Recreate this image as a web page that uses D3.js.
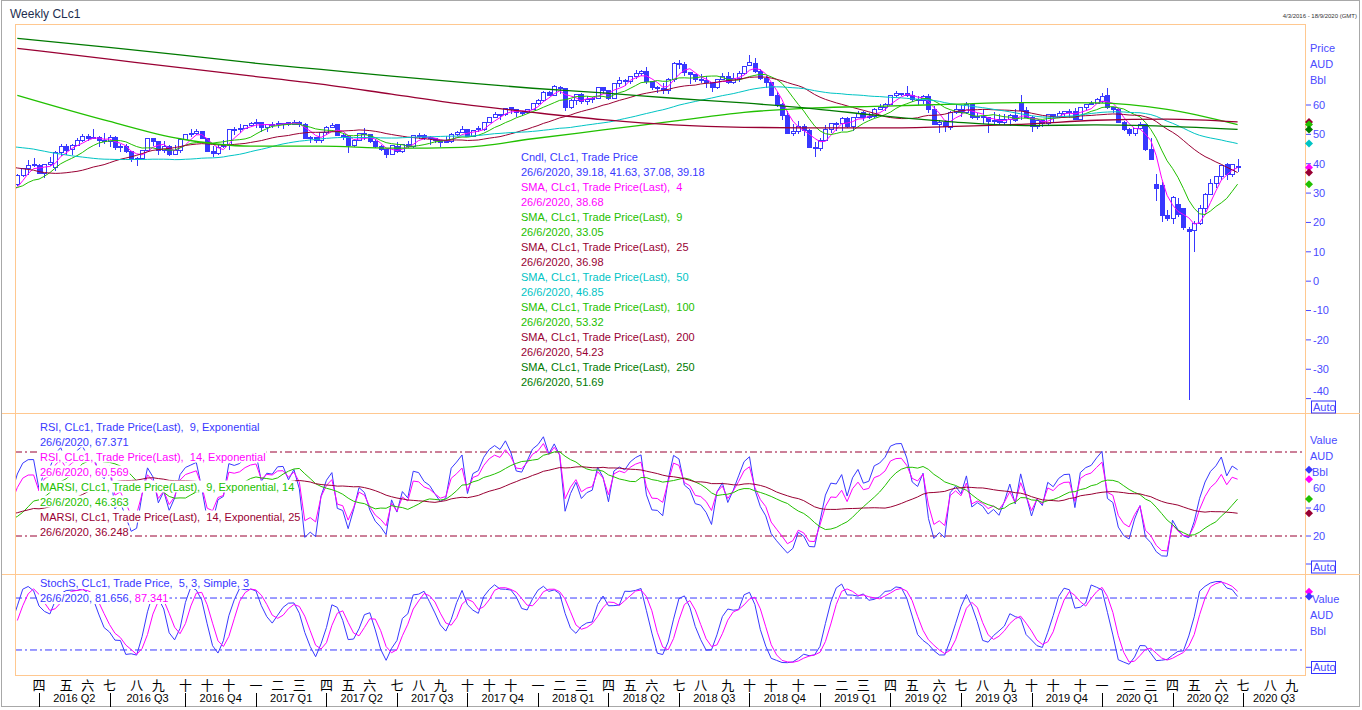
<!DOCTYPE html>
<html>
<head>
<meta charset="utf-8">
<title>Weekly CLc1</title>
<script src="https://cdn.jsdelivr.net/npm/d3@7/dist/d3.min.js"></script>
<style>
body{margin:0;background:#fff;}
svg{font-family:Arial,"Liberation Sans",sans-serif;}
text{white-space:pre;}
</style>
</head>
<body>
<svg id="chart" width="1362" height="710"></svg>
<script>
// weekly candles, one per Friday from 4/3/2016 to 26/6/2020
var opens=[
 32.8,35.9,38.3,39.9,39.5,36.8,39.7,38.7,43.7,45.9,44.7,46.2,47.8,49.3,48.6,49.1,48.0,47.6,49.0,45.4,46.0,44.2,41.6,41.8,44.5,48.5,47.6,44.4,45.9,43.0,44.5,48.2,49.8,50.4,50.9,48.7,44.1,43.4,45.7,46.1,51.7,51.5,51.9,53.0,
 53.7,54.0,52.4,53.2, 53.2,53.8,53.9,53.4, 54.0,53.3,48.5,48.8,48.0, 50.6,52.2,53.2,49.6, 49.3,46.2,47.8,50.3, 49.8,47.7,45.8,44.7,43.0, 46.0,44.2,46.5,45.8, 49.7,49.6,48.8,48.5, 47.9,47.3,47.5,49.9,50.7, 51.7,49.3,51.5,51.8, 53.9,55.6,56.7,56.6, 59.0,58.4,57.4,57.3,58.5,
 60.4,61.4,64.3,63.4, 66.1,65.5,59.2,61.7, 63.6,61.3,62.0,62.3,65.9, 64.9,62.1,67.4,68.4, 68.1,69.7,70.7,71.3, 67.9,65.8,65.7,65.1,68.6, 74.2,73.8,71.0,70.5, 68.7,68.5,67.6,65.9,68.7, 69.8,67.8,69.0,70.8, 73.3,74.3,71.3,69.1, 67.6,63.1,60.2,56.5,50.4, 50.9,52.6,51.2,45.6,
 45.3,48.0,51.6,53.8, 53.7,55.3,52.7,55.6, 57.3,55.8,56.1,58.5,59.0, 60.1,63.1,63.9,64.0, 63.3,61.9,61.7,62.8,58.6, 53.5,54.0,52.5,57.4, 58.5,57.5,60.2,55.6, 56.2,55.7,54.5,54.9,54.2, 55.1,56.5,61.0,58.1, 55.9,52.8,54.7,53.8, 56.7,56.2,57.2,57.7,57.8, 55.2,59.2,60.1,60.4,
 61.1,63.3,59.0,58.5,54.2, 51.6,50.3,52.1,53.4, 44.8,32.9,32.5,22.4, 21.3,26.1,24.7,17.7, 17.2,19.8,24.7,29.4,33.3, 35.5,39.6,36.3,39.18
];
var highs=[
 36.4,38.7,41.2,41.9,39.9,39.8,42.4,44.5,46.8,46.8,46.7,48.8,50.2,50.0,51.7,49.3,50.5,49.7,49.4,46.8,46.7,44.3,42.3,44.6,48.8,48.6,47.8,47.7,46.4,46.5,48.3,50.1,51.9,51.9,51.0,48.9,45.9,46.6,48.2,51.8,52.4,53.6,53.2,54.3,
 55.2,54.0,53.3,54.1, 54.5,54.0,54.0,54.9, 54.6,53.7,49.4,49.0,50.9, 52.9,53.8,53.3,50.0, 49.4,48.3,50.5,52.0, 49.9,48.5,46.5,44.7,46.3, 47.3,46.6,47.6,49.8, 50.4,50.2,49.3,48.7, 48.0,49.4,50.4,51.0,52.9, 51.8,51.6,52.9,54.0, 55.7,57.7,57.1,59.1, 59.1,58.8,58.1,58.5,60.5,
 62.2,64.8,64.9,66.7, 66.6,65.5,61.9,63.7, 64.2,63.0,62.6,66.0,66.0, 65.0,67.5,69.6,69.0, 69.9,71.9,72.0,72.8, 68.0,66.6,67.5,69.2,74.5, 75.3,74.8,71.4,70.6, 70.4,69.8,67.9,69.0,70.8, 71.4,71.0,71.6,73.3, 76.9,75.9,72.2,69.9, 67.9,64.5,60.7,57.8,53.4, 54.6,53.6,51.9,47.5,
 48.8,53.3,54.0,54.3, 55.8,55.8,55.9,57.8, 57.9,57.4,58.9,60.4,60.7, 63.3,64.8,64.2,66.6, 64.9,63.0,63.4,63.8,59.6, 54.8,54.8,58.0,59.9, 59.9,60.9,60.6,57.4, 58.8,55.7,57.5,56.9,56.9, 57.1,58.8,63.4,59.4, 56.3,54.9,54.9,56.9, 56.9,57.9,57.9,58.7,58.9, 59.2,60.2,61.2,62.3,
 64.1,65.7,59.3,59.1,54.5, 52.2,52.2,54.3,53.6, 48.7,36.4,33.8,24.2, 29.1,28.4,24.7,18.3, 20.5,26.0,29.9,34.7,35.6, 39.6,40.4,40.0,41.63
];
var lows=[
 32.5,35.4,36.3,39.0,36.6,35.2,39.2,37.6,42.5,43.0,43.1,46.0,47.3,47.8,48.4,45.8,46.7,45.8,44.8,44.0,43.8,40.6,39.2,41.6,44.3,46.0,43.0,43.8,42.7,42.9,43.6,48.0,49.1,49.7,48.3,44.0,42.2,43.0,45.4,44.8,49.9,50.3,51.8,52.4,
 52.1,50.7,50.9,52.1, 52.1,51.9,52.8,53.2, 52.5,48.3,47.1,47.0,47.1, 49.9,52.0,49.5,48.2, 43.8,45.6,47.7,48.2, 46.9,45.2,44.3,42.1,42.9, 43.8,43.6,45.4,45.4, 48.4,48.0,46.5,47.0, 45.6,46.9,47.1,49.4,50.5, 49.1,49.3,50.7,51.1, 53.8,55.5,54.8,56.3, 56.8,55.8,56.1,57.0,58.4,
 60.1,61.1,63.1,62.9, 63.7,58.1,58.6,60.1, 60.2,60.1,60.8,61.9,63.9, 61.8,62.0,66.3,66.6, 67.0,68.9,70.0,67.2, 65.0,64.2,63.6,63.9,67.9, 72.3,69.8,67.0,67.7, 67.6,65.7,64.4,65.6,68.6, 67.1,67.0,68.0,70.1, 73.2,70.8,68.5,65.7, 62.9,59.3,54.8,50.2,49.4, 50.1,49.6,45.2,42.4,
 44.4,48.0,50.4,51.3, 51.3,52.3,51.3,55.5, 54.5,55.1,55.6,58.3,58.1, 60.1,62.8,63.0,62.8, 60.9,60.1,60.2,57.3,53.2, 50.6,50.7,51.4,57.1, 55.8,57.1,55.3,55.0, 53.6,50.5,53.5,53.2,53.2, 52.8,54.3,54.8,55.5, 50.9,51.9,52.4,53.3, 53.9,55.6,55.9,55.5,55.1, 55.0,58.3,59.9,60.3,
 60.6,58.7,57.4,53.9,51.3, 49.3,49.4,51.7,44.2, 41.1,27.3,20.1,20.5, 19.3,22.0,17.3,-40.32, 10.07,19.1,23.5,29.3,31.6, 34.6,34.6,35.4,37.08
];
var closes=[
 35.92,38.50,39.44,39.46,36.79,39.72,40.36,43.73,45.92,44.66,46.21,47.75,49.33,48.62,49.07,47.98,47.64,48.99,45.41,45.95,44.19,41.60,41.80,44.49,48.52,47.64,44.44,45.88,43.03,44.48,48.24,49.81,50.35,50.85,48.70,44.07,43.41,45.69,46.06,51.68,51.50,51.90,53.02,53.72,
 53.99,52.37,53.22,53.17, 53.83,53.86,53.40,54.01, 53.33,48.49,48.78,47.97,50.60, 52.24,53.18,49.62,49.33, 46.22,47.84,50.33,49.80, 47.66,45.83,44.74,43.01,46.04, 44.23,46.54,45.77,49.71, 49.58,48.82,48.51,47.87, 47.29,47.48,49.89,50.66,51.67, 49.29,51.45,51.84,53.90, 55.64,56.74,56.55,58.95, 58.36,57.36,57.30,58.47,60.42,
 61.44,64.30,63.37,66.14, 65.45,59.20,61.68,63.55, 61.25,62.04,62.34,65.88,64.94, 62.06,67.39,68.38,68.10, 69.72,70.70,71.28,67.88, 65.81,65.74,65.06,68.58,74.15, 73.80,71.01,70.46,68.69, 68.49,67.63,65.91,68.72,69.80, 67.75,68.99,70.78,73.25, 74.34,71.34,69.12,67.59, 63.14,60.19,56.46,50.42,50.93, 52.61,51.20,45.59,45.33,
 47.96,51.59,53.80,53.69, 55.26,52.72,55.59,57.26, 55.80,56.07,58.52,59.04,60.14, 63.08,63.89,64.00,63.30, 61.94,61.66,62.76,58.63,53.50, 54.00,52.51,57.43,58.47, 57.51,60.21,55.63,56.20, 55.66,54.50,54.87,54.17,55.10, 56.52,54.85,58.09,55.91, 52.81,54.70,53.78,56.66, 56.20,57.24,57.72,57.77,55.17, 59.20,60.07,60.44,61.72,
 63.05,59.04,58.54,54.19,51.56, 50.32,52.05,53.38,44.76, 41.28,31.73,22.43,21.51, 28.34,22.76,18.27,16.94, 19.78,24.74,29.43,33.25,35.49, 39.55,36.26,39.75,39.18
];

// closes of the 52 weeks before the window (6/3/2015 .. 26/2/2016), they only start the averages
var preCloses=[49.61,44.84,45.72,48.87,49.14,51.64,55.74,57.15,59.15,59.39,59.69,59.72,60.30,59.13,59.96,59.61,59.63,56.93,52.74,50.89,48.14,47.12,43.87,42.50,40.45,45.22,46.05,44.63,44.68,45.70,45.54,49.63,47.26,44.60,46.59,44.29,40.74,40.39,41.71,39.97,35.62,34.73,38.10,37.04,33.16,29.42,32.19,33.62,30.89,29.44,29.64,32.78];
// highs / lows of the last 8 of those weeks (the stochastic needs them)
var preHighs=[38.4,34.0,32.4,34.8,34.0,31.1,31.5,33.2];
var preLows=[32.1,29.1,26.2,29.3,29.5,26.1,28.4,29.4];

// long averages at quarter ends
var sma100Pts=[["2016-03-04",63.3],["2016-06-30",54.5],["2016-09-30",48.5],["2016-12-30",46.0],["2017-03-31",46.0],["2017-06-30",45.3],["2017-09-29",45.6],["2017-12-29",48.5],["2018-03-30",51.5],["2018-06-29",54.5],["2018-09-28",57.5],["2018-12-28",59.0],["2019-03-29",59.6],["2019-06-28",60.3],["2019-09-27",60.8],["2019-12-27",60.7],["2020-03-27",58.5],["2020-06-26",53.32]];
var sma200Pts=[["2016-03-04",79.3],["2016-06-30",75.6],["2016-09-30",72.7],["2016-12-30",69.9],["2017-03-31",67.1],["2017-06-30",63.7],["2017-09-29",60.3],["2017-12-29",57.5],["2018-03-30",55.0],["2018-06-29",53.2],["2018-09-28",52.4],["2018-12-28",52.2],["2019-03-29",52.2],["2019-06-28",52.7],["2019-09-27",53.5],["2019-12-27",54.8],["2020-03-27",55.2],["2020-06-26",54.23]];
var sma250Pts=[["2016-03-04",82.7],["2016-06-30",79.6],["2016-09-30",77.1],["2016-12-30",74.4],["2017-03-31",72.1],["2017-06-30",69.8],["2017-09-29",67.7],["2017-12-29",65.7],["2018-03-30",64.1],["2018-06-29",62.3],["2018-09-28",60.7],["2018-12-28",58.7],["2019-03-29",56.2],["2019-06-28",54.2],["2019-09-27",53.0],["2019-12-27",53.2],["2020-03-27",52.7],["2020-06-26",51.69]];

var priceTicks=[60,50,40,30,20,10,0,-10,-20,-30,-40];
var monthNames=["一","二","三","四","五","六","七","八","九","十","十","十"];

var priceLegend=[
 ["Cndl, CLc1, Trade Price","26/6/2020, 39.18, 41.63, 37.08, 39.18","blue"],
 ["SMA, CLc1, Trade Price(Last),  4","26/6/2020, 38.68","magenta"],
 ["SMA, CLc1, Trade Price(Last),  9","26/6/2020, 33.05","lime"],
 ["SMA, CLc1, Trade Price(Last),  25","26/6/2020, 36.98","maroon"],
 ["SMA, CLc1, Trade Price(Last),  50","26/6/2020, 46.85","cyan"],
 ["SMA, CLc1, Trade Price(Last),  100","26/6/2020, 53.32","lime"],
 ["SMA, CLc1, Trade Price(Last),  200","26/6/2020, 54.23","maroon"],
 ["SMA, CLc1, Trade Price(Last),  250","26/6/2020, 51.69","dkgreen"]
];
var priceLast=[[54.23,"maroon"],[53.32,"lime"],[51.69,"dkgreen"],[46.85,"cyan"],[38.68,"magenta"],[36.98,"maroon"],[33.05,"lime"]];
var rsiLegend=[
 ["RSI, CLc1, Trade Price(Last),  9, Exponential","26/6/2020, 67.371","blue"],
 ["RSI, CLc1, Trade Price(Last),  14, Exponential","26/6/2020, 60.569","magenta"],
 ["MARSI, CLc1, Trade Price(Last),  9, Exponential, 14","26/6/2020, 46.363","lime"],
 ["MARSI, CLc1, Trade Price(Last),  14, Exponential, 25","26/6/2020, 36.248","maroon"]
];
var rsiLast=[[67.371,"blue"],[60.569,"magenta"],[46.363,"lime"],[36.248,"maroon"]];
var stochLast=[[87.341,"magenta"],[81.656,"blue"]];

var col={blue:"#3838ff",magenta:"#ff00ff",lime:"#22c000",maroon:"#990033",cyan:"#00c4c4",dkgreen:"#007a00"};
var orange="#ffc890", axisBlue="#4a4aff";

var svg=d3.select("#chart");
var L=15,R=1305;
var dates=d3.timeFriday.range(new Date(2016,2,4),new Date(2020,5,27));
var preDates=d3.timeFriday.range(new Date(2015,2,6),new Date(2016,2,4));
var allDates=preDates.concat(dates);
var nPre=preCloses.length;
var pad=nPre-preHighs.length;
var allC=preCloses.concat(closes);
var allH=preCloses.map(function(d,i){return i<pad?null:preHighs[i-pad];}).concat(highs);
var allL=preCloses.map(function(d,i){return i<pad?null:preLows[i-pad];}).concat(lows);

var x=d3.scaleTime().domain([new Date(2016,2,1),new Date(2020,8,21)]).range([L,R]);
var yP=d3.scaleLinear().domain([-40,60]).range([398.6,105]);
var yR=d3.scaleLinear().domain([0,100]).range([564,424]);
var yS=d3.scaleLinear().domain([0,100]).range([667.3,580.7]);

/////////////// indicators (the chart's own definitions, applied to the candles)
// simple average, null until n real values are there
function sma(arr,n){
	return arr.map(function(v,i){
		if(i<n-1) return null;
		var s=0;
		for(var k=i-n+1;k<=i;k++){ if(arr[k]==null) return null; s+=arr[k]; }
		return s/n;
	});
}
// rsi with exponential smoothing of gains / losses
function rsiExp(c,n){
	var a=2/(n+1),g=null,l=null;
	return c.map(function(v,i){
		if(i===0) return null;
		var d=v-c[i-1],up=d>0?d:0,dn=d<0?-d:0;
		if(g===null){g=up;l=dn;} else {g+=a*(up-g);l+=a*(dn-l);}
		if(i<n) return null;
		return l===0?100:100-100/(1+g/l);
	});
}
function stochFast(c,h,l,n){
	return c.map(function(v,i){
		if(i<n-1) return null;
		var hh=-Infinity,ll=Infinity;
		for(var k=i-n+1;k<=i;k++){ if(h[k]==null) return null; hh=Math.max(hh,h[k]); ll=Math.min(ll,l[k]); }
		return (v-ll)/(hh-ll)*100;
	});
}
var rsi9=rsiExp(allC,9), rsi14=rsiExp(allC,14);
var marsi9=sma(rsi9,14), marsi14=sma(rsi14,25);
var slowK=sma(stochFast(allC,allH,allL,5),3);
var slowD=sma(slowK,3);

/////////////// frame
svg.append("rect").attr("x",1.5).attr("y",0.5).attr("width",1358).attr("height",706).attr("fill","#fff").attr("stroke","#a8a8a8");
svg.append("text").attr("x",10).attr("y",18).attr("font-size",12).attr("fill","#1e2e50").text("Weekly CLc1");
svg.append("text").attr("x",1357).attr("y",18).attr("font-size",6).attr("text-anchor","end").attr("fill","#333").text("4/3/2016 - 18/9/2020 (GMT)");

function clip(id,y0,y1){
	svg.append("clipPath").attr("id",id).append("rect").attr("x",L).attr("y",y0).attr("width",R-L).attr("height",y1-y0);
	return svg.append("g").attr("clip-path","url(#"+id+")");
}
var gP=clip("cp",24,413), gR=clip("cr",414,574), gS=clip("cs",575,675);

function lineOf(g,vals,ys,color,w){
	var pts=[];
	vals.forEach(function(v,i){ if(i>=nPre-1 && v!=null && isFinite(v)) pts.push([allDates[i],v]); });
	g.append("path").datum(pts).attr("fill","none").attr("stroke",color).attr("stroke-width",w||1)
		.attr("d",d3.line().x(function(d){return x(d[0]);}).y(function(d){return ys(d[1]);}));
}
function sparseLine(g,pts,color){
	var parse=d3.timeParse("%Y-%m-%d");
	g.append("path").datum(pts).attr("fill","none").attr("stroke",color).attr("stroke-width",1.3)
		.attr("d",d3.line().curve(d3.curveMonotoneX).x(function(d){return x(parse(d[0]));}).y(function(d){return yP(d[1]);}));
}
function dashAt(g,y,color){
	g.append("line").attr("x1",L).attr("x2",R).attr("y1",y).attr("y2",y).attr("stroke",color).attr("stroke-dasharray","7,3,2,3");
}

/////////////// price panel
var cg=gP.append("g").attr("shape-rendering","crispEdges");
dates.forEach(function(d,i){
	var cx=Math.round(x(d))+0.5, o=opens[i], c=closes[i];
	cg.append("line").attr("x1",cx).attr("x2",cx).attr("y1",yP(highs[i])).attr("y2",yP(lows[i])).attr("stroke",col.blue);
	var top=yP(Math.max(o,c)), bot=yP(Math.min(o,c));
	cg.append("rect").attr("x",cx-2).attr("y",top).attr("width",4).attr("height",Math.max(1,bot-top))
		.attr("fill",c>=o?"#fff":col.blue).attr("stroke",col.blue);
});
lineOf(gP,sma(allC,4),yP,col.magenta);
lineOf(gP,sma(allC,9),yP,col.lime);
lineOf(gP,sma(allC,25),yP,col.maroon);
lineOf(gP,sma(allC,50),yP,col.cyan);
sparseLine(gP,sma100Pts,col.lime);
sparseLine(gP,sma200Pts,col.maroon);
sparseLine(gP,sma250Pts,col.dkgreen);

/////////////// rsi panel
dashAt(gR,yR(80),col.maroon);
dashAt(gR,yR(20),col.maroon);
lineOf(gR,rsi9,yR,col.blue);
lineOf(gR,rsi14,yR,col.magenta);
lineOf(gR,marsi9,yR,col.lime);
lineOf(gR,marsi14,yR,col.maroon);

/////////////// stochastic panel
dashAt(gS,yS(80),col.blue);
dashAt(gS,yS(20),col.blue);
lineOf(gS,slowK,yS,col.blue);
lineOf(gS,slowD,yS,col.magenta);

/////////////// legends
function legendLine(x0,y,parts,bg){
	var g=svg.append("g");
	var t=g.append("text").attr("x",x0).attr("y",y).attr("font-size",11);
	parts.forEach(function(p){ t.append("tspan").attr("fill",col[p[1]]).text(p[0]); });
	if(bg){
		var b=t.node().getBBox();
		g.insert("rect","text").attr("x",b.x-1).attr("y",b.y).attr("width",b.width+2).attr("height",b.height).attr("fill","#fff");
	}
}
priceLegend.forEach(function(r,k){
	legendLine(521,161+k*30,[[r[0],r[2]]],false);
	legendLine(521,176+k*30,[[r[1],r[2]]],false);
});
rsiLegend.forEach(function(r,k){
	legendLine(40,430.5+k*30,[[r[0],r[2]]],true);
	legendLine(40,445.5+k*30,[[r[1],r[2]]],true);
});
legendLine(40,587,[["StochS, CLc1, Trade Price,  5, 3, Simple, 3","blue"]],true);
legendLine(40,602,[["26/6/2020, 81.656, ","blue"],["87.341","magenta"]],true);

/////////////// borders
var fr=svg.append("g").attr("stroke",orange).attr("shape-rendering","crispEdges");
fr.append("line").attr("x1",L).attr("x2",R).attr("y1",24.5).attr("y2",24.5);
fr.append("line").attr("x1",2).attr("x2",1360).attr("y1",413.5).attr("y2",413.5);
fr.append("line").attr("x1",2).attr("x2",1360).attr("y1",574.5).attr("y2",574.5);
fr.append("line").attr("x1",L).attr("x2",R).attr("y1",675.5).attr("y2",675.5);
fr.append("line").attr("x1",L+0.5).attr("x2",L+0.5).attr("y1",24).attr("y2",676);
fr.append("line").attr("x1",R+0.5).attr("x2",R+0.5).attr("y1",24).attr("y2",676);

/////////////// right axes
var ax=svg.append("g").attr("font-size",11).attr("fill",axisBlue);
function tick(y){ ax.append("line").attr("x1",1306).attr("x2",1311).attr("y1",y).attr("y2",y).attr("stroke",axisBlue); }
function lab(xx,y,s){ ax.append("text").attr("x",xx).attr("y",y).attr("dy","0.35em").text(s); }
function autoBox(y){
	ax.append("rect").attr("x",1311.5).attr("y",y).attr("width",24).attr("height",12).attr("fill","#fff").attr("stroke","#3333ff");
	lab(1313,y+6,"Auto");
}
function diamond(y,c){
	ax.append("path").attr("d","M1309,"+(y-4)+"L1313,"+y+"L1309,"+(y+4)+"L1305,"+y+"Z").attr("fill",col[c]);
}
lab(1310,48,"Price"); lab(1310,64,"AUD"); lab(1310,80,"Bbl");
priceTicks.forEach(function(v){
	tick(yP(v));
	lab(1313,v===-40?yP(v)-7:yP(v),String(v));   // -40 sits a bit higher, above the Auto box
});
autoBox(401);
priceLast.forEach(function(d){ diamond(yP(d[0]),d[1]); });

lab(1310,440,"Value"); lab(1310,456,"AUD"); lab(1312,472,"Bbl");
lab(1313,488,"60"); lab(1313,508,"40"); lab(1313,536,"20");
[40,20,0].forEach(function(v){ tick(yR(v)); });
autoBox(561);
rsiLast.forEach(function(d){ diamond(yR(d[0]),d[1]); });

lab(1312,599,"Value"); lab(1310,615,"AUD"); lab(1310,631,"Bbl");
tick(yS(0));
autoBox(661.5);
stochLast.forEach(function(d){ diamond(yS(d[0]),d[1]); });

/////////////// bottom axis: months and quarters
var bx=svg.append("g");
var months=d3.timeMonth.range(new Date(2016,3,1),new Date(2020,9,1));
var qStarts=[];
months.forEach(function(m){
	var fx=x(d3.timeFriday.ceil(m));   //label sits on the first bar of the month
	bx.append("text").attr("x",fx).attr("y",690).attr("text-anchor","middle").attr("font-size",13)
		.attr("font-family","'Noto Sans CJK SC',sans-serif").attr("fill","#000").text(monthNames[m.getMonth()]);
	if(m.getMonth()%3===0) qStarts.push([m,fx]);
});
qStarts.forEach(function(q,k){
	var fx=Math.round(q[1])+0.5;
	bx.append("line").attr("x1",fx).attr("x2",fx).attr("y1",693).attr("y2",707).attr("stroke","#000");
	var nx=k<qStarts.length-1?qStarts[k+1][1]:R;
	bx.append("text").attr("x",(q[1]+nx)/2).attr("y",702).attr("text-anchor","middle").attr("font-size",11).attr("fill","#000")
		.text(q[0].getFullYear()+" Q"+(Math.floor(q[0].getMonth()/3)+1));
});
</script>
</body>
</html>
